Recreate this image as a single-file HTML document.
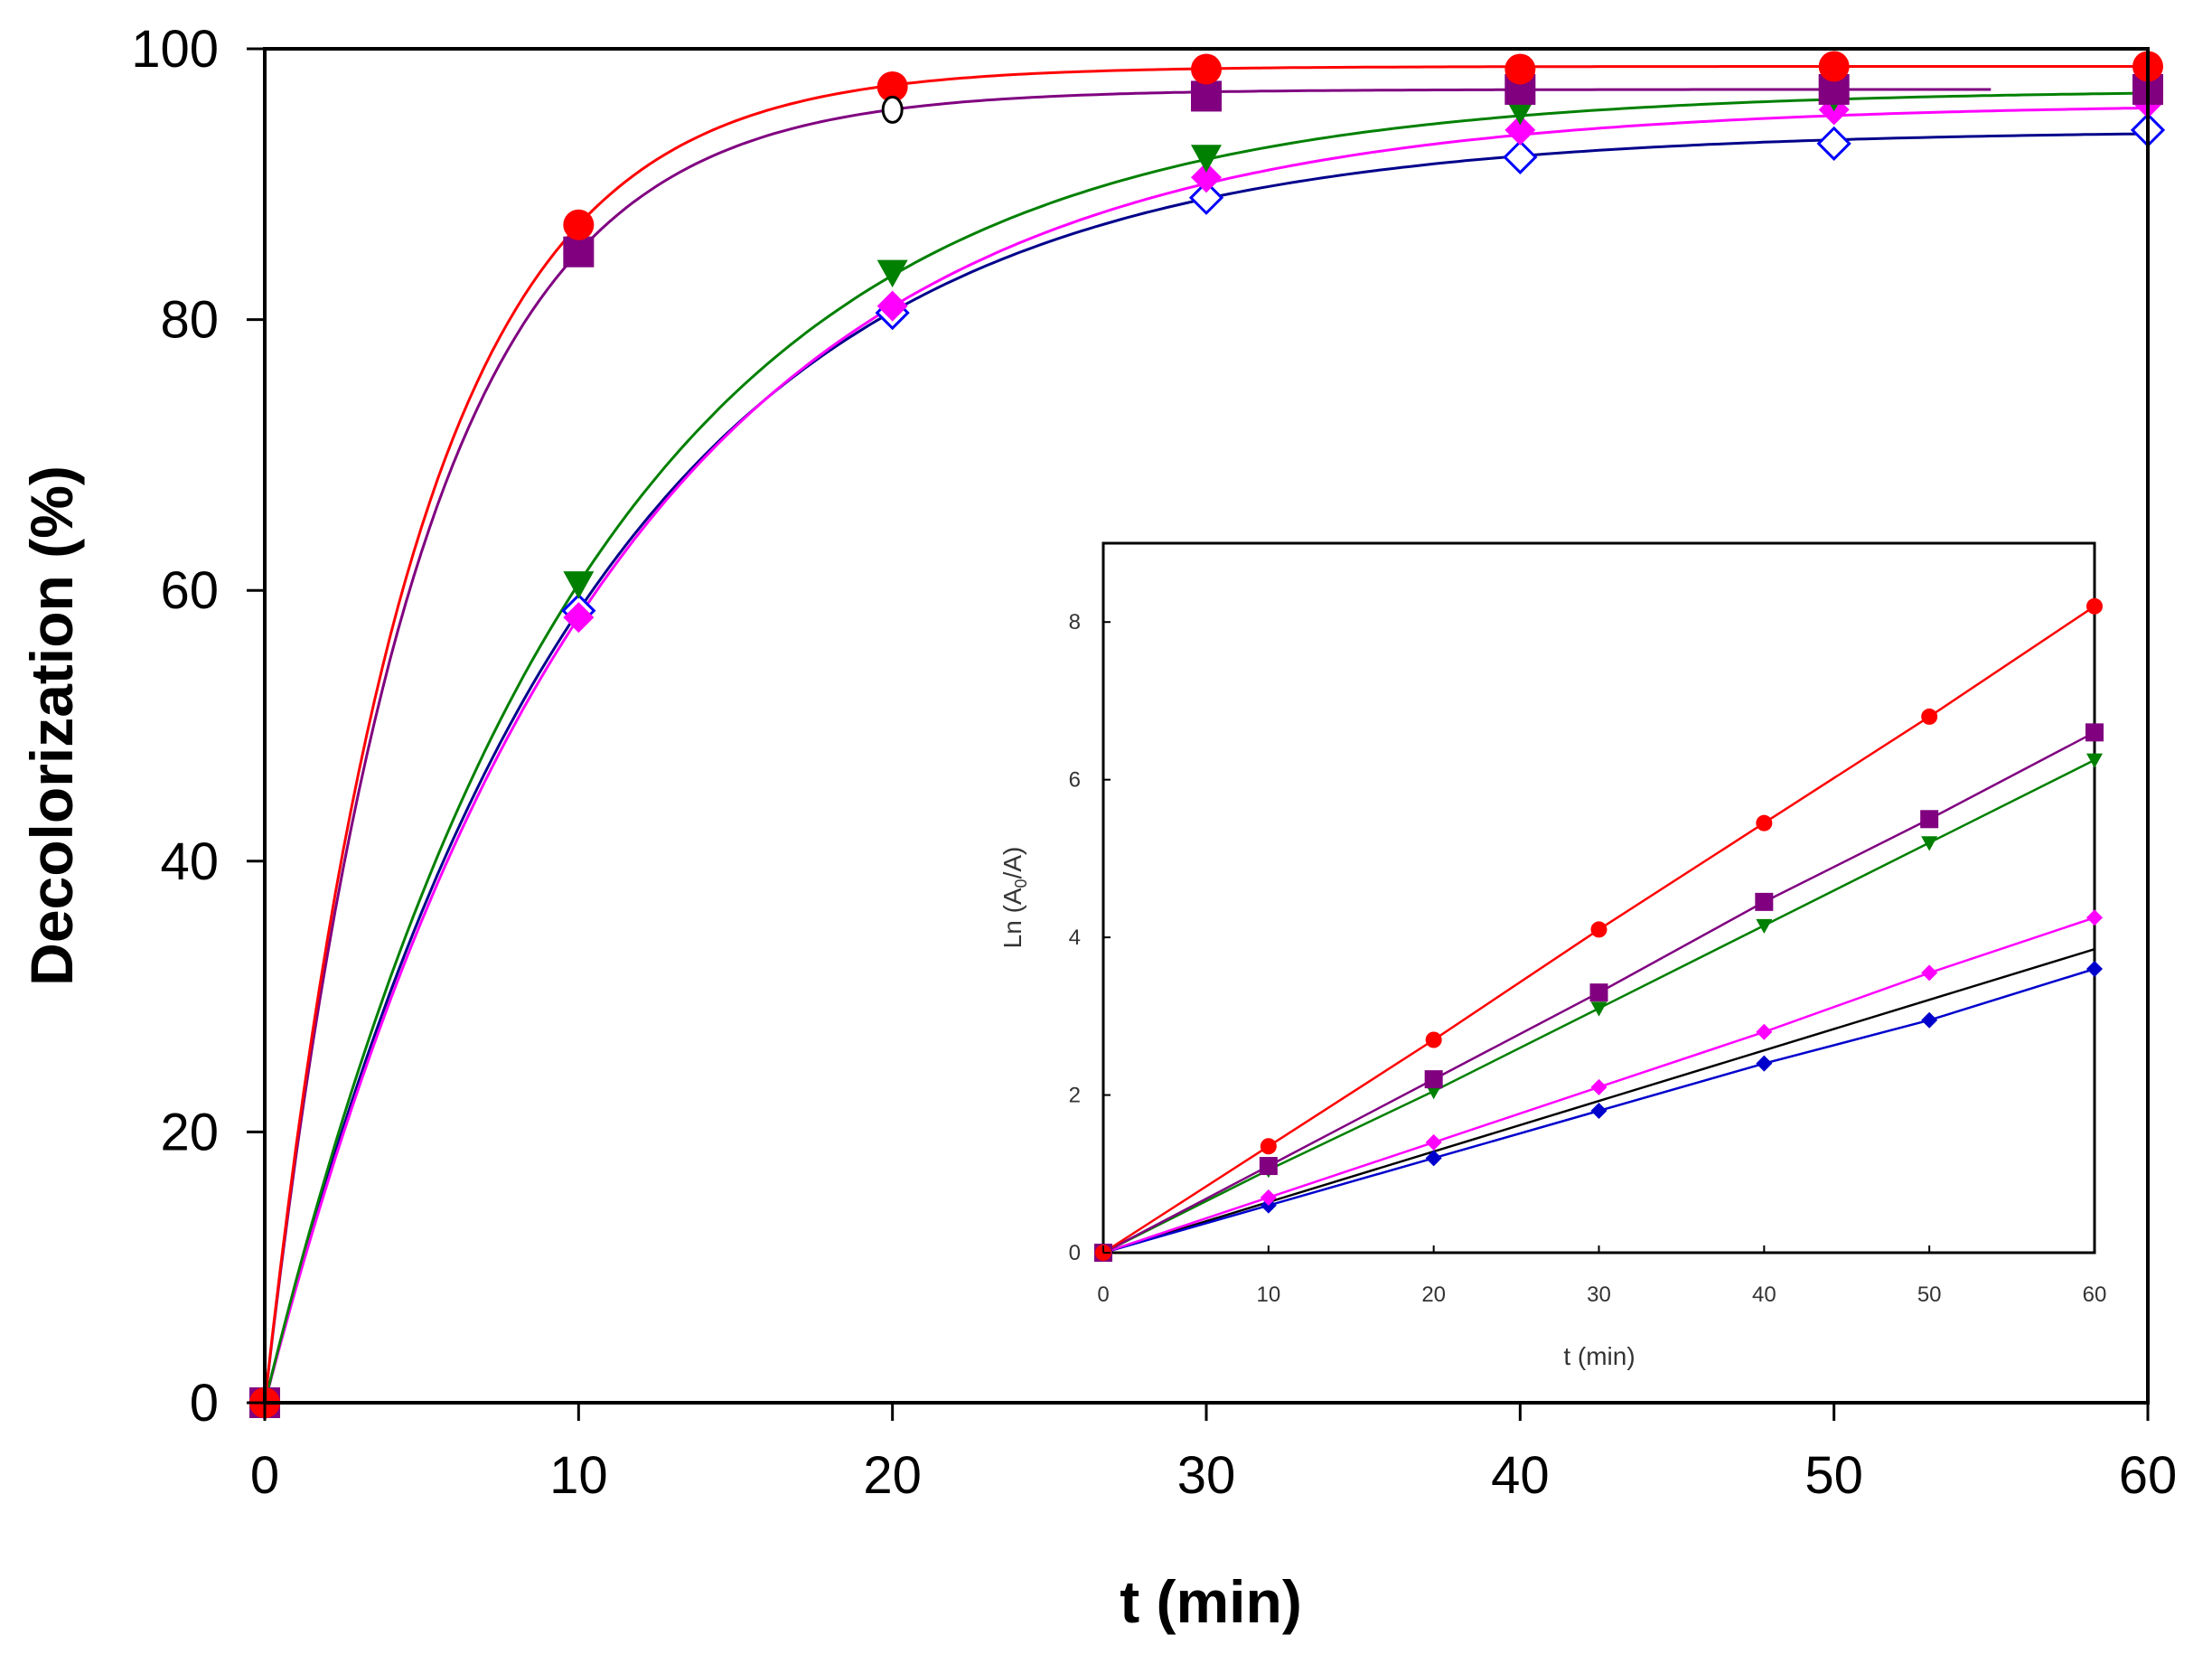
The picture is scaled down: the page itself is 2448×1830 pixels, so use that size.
<!DOCTYPE html>
<html><head><meta charset="utf-8"><style>
html,body{margin:0;padding:0;background:#fff;}
svg{display:block;font-family:"Liberation Sans",Arial,sans-serif;}
</style></head><body>
<svg id="chart" width="2448" height="1830" viewBox="0 0 2448 1830" xmlns="http://www.w3.org/2000/svg">
<g id="main"></g>
<g id="inset"></g>
</svg>
<script>
// Main chart data
const times = [0,10,20,30,40,50,60];
const redVals = [0,87,97.2,98.5,98.5,98.7,98.7];
const purpleVals = [0,85,95.5,96.5,97,97,97];
const greenVals = [0,60.5,83.5,92,95.5,96.5,97];
const magentaVals = [0,58,81,90.5,94,95.5,96];
const blueVals = [0,58.5,80.5,89,92,93,94];
const openCircle = [20,95.5];
const mainXTicks = [0,10,20,30,40,50,60];
const mainYTicks = [0,20,40,60,80,100];
// Inset data
const insetTimes = [0,10,20,30,40,50,60];
const insetRed = [0,1.35,2.7,4.1,5.45,6.8,8.2];
const insetPurple = [0,1.1,2.2,3.3,4.45,5.5,6.6];
const insetGreen = [0,1.05,2.05,3.1,4.15,5.2,6.25];
const insetMagenta = [0,0.7,1.4,2.1,2.8,3.55,4.25];
const insetBlack = [0,3.85];
const insetBlackT = [0,60];
const insetBlue = [0,0.6,1.2,1.8,2.4,2.95,3.6];
const insetXTicks = [0,10,20,30,40,50,60];
const insetYTicks = [0,2,4,6,8];

const NS="http://www.w3.org/2000/svg";
function mk(parent,tag,attrs,text){const e=document.createElementNS(NS,tag);for(const k in attrs)e.setAttribute(k,attrs[k]);if(text!==undefined)e.textContent=text;parent.appendChild(e);return e;}

const M={l:293,r:2377,t:54,b:1552};
const mx=v=>M.l+(v/60)*(M.r-M.l);
const my=v=>M.b-(v/100)*(M.b-M.t);
const main=document.getElementById('main');

function marker(g,type,x,y,s,color,name){
  let e;
  if(type==='circle'){e=mk(g,'circle',{cx:x,cy:y,r:s,fill:color});}
  else if(type==='ocircle'){e=mk(g,'ellipse',{cx:x,cy:y,rx:s*0.75,ry:s,fill:'#fff',stroke:color,'stroke-width':3});}
  else if(type==='square'){e=mk(g,'rect',{x:x-s,y:y-s,width:2*s,height:2*s,fill:color});}
  else if(type==='tri'){e=mk(g,'polygon',{points:`${x-s},${y-s*0.8} ${x+s},${y-s*0.8} ${x},${y+s}`,fill:color});}
  else if(type==='diamond'){e=mk(g,'polygon',{points:`${x},${y-s} ${x+s},${y} ${x},${y+s} ${x-s},${y}`,fill:color});}
  else if(type==='odiamond'){e=mk(g,'polygon',{points:`${x},${y-s} ${x+s},${y} ${x},${y+s} ${x-s},${y}`,fill:'#fff',stroke:color,'stroke-width':3});}
  
  
  return e;
}

function fitCurve(vals,tEnd,color,name){
  const a=vals[vals.length-1];
  const k=-Math.log(1-vals[1]/a)/10;
  let d='';
  for(let t=0;t<=tEnd;t+=0.25){d+=(t===0?'M':'L')+mx(t).toFixed(1)+','+my(a*(1-Math.exp(-k*t))).toFixed(1);}
  const p=mk(main,'path',{d:d,fill:'none',stroke:color,'stroke-width':3});
  
  
}
const series=[
 {v:blueVals,c:'#00008b',mc:'#0000ff',m:'odiamond',n:'blue',end:60},
 {v:magentaVals,c:'#ff00ff',mc:'#ff00ff',m:'diamond',n:'magenta',end:60},
 {v:greenVals,c:'#008000',mc:'#008000',m:'tri',n:'green',end:60},
 {v:purpleVals,c:'#800080',mc:'#800080',m:'square',n:'purple',end:55},
 {v:redVals,c:'#ff0000',mc:'#ff0000',m:'circle',n:'red',end:60}
];
series.forEach(s=>fitCurve(s.v,s.end,s.c,s.n+'-fit-curve'));
series.forEach(s=>{s.v.forEach((v,i)=>{
  if(s.n==='purple'&&i===2)return;
  marker(main,s.m,mx(times[i]),my(v),17,s.mc,s.n+'-marker');
});});
marker(main,'ocircle',mx(openCircle[0]),my(openCircle[1]),14,'#000','open-circle-marker');

mk(main,'rect',{x:M.l,y:M.t,width:M.r-M.l,height:M.b-M.t,fill:'none',stroke:'#000','stroke-width':4});
mainXTicks.forEach(t=>{
  mk(main,'line',{x1:mx(t),y1:M.b,x2:mx(t),y2:M.b+20,stroke:'#000','stroke-width':3});
  const e=mk(main,'text',{x:mx(t),y:1652,'text-anchor':'middle','font-size':58},t);
  
  
});
mainYTicks.forEach(t=>{
  mk(main,'line',{x1:M.l-20,y1:my(t),x2:M.l,y2:my(t),stroke:'#000','stroke-width':3});
  const e=mk(main,'text',{x:242,y:my(t)+20,'text-anchor':'end','font-size':58},t);
  
  
});
let xt=mk(main,'text',{x:1340,y:1795,'text-anchor':'middle','font-size':66,'font-weight':'bold'},'t (min)');


let yt=mk(main,'text',{x:0,y:0,'text-anchor':'middle','font-size':66,'font-weight':'bold',transform:'translate(80,803) rotate(-90)'},'Decolorization (%)');



const I={l:1221,r:2318,t:601,b:1386};
const ix=v=>I.l+(v/60)*(I.r-I.l);
const iy=v=>I.b-(v/9)*(I.b-I.t);
const inset=document.getElementById('inset');
mk(inset,'rect',{x:I.l,y:I.t,width:I.r-I.l,height:I.b-I.t,fill:'#fff',stroke:'#000','stroke-width':3});
function iline(ts,vals,color,name){
  const pts=vals.map((v,i)=>ix(ts[i]).toFixed(1)+','+iy(v).toFixed(1)).join(' ');
  const p=mk(inset,'polyline',{points:pts,fill:'none',stroke:color,'stroke-width':2.5});
  
  
}
const iser=[
 {v:insetBlue,c:'#0000cd',m:'diamond',n:'inset-blue'},
 {v:insetMagenta,c:'#ff00ff',m:'diamond',n:'inset-magenta'},
 {v:insetGreen,c:'#008000',m:'tri',n:'inset-green'},
 {v:insetPurple,c:'#800080',m:'square',n:'inset-purple'},
 {v:insetRed,c:'#ff0000',m:'circle',n:'inset-red'}
];
iline(insetBlackT,insetBlack,'#000','inset-black-line');
iser.forEach(s=>{iline(insetTimes,s.v,s.c,s.n+'-line');});
iser.forEach(s=>{s.v.forEach((v,i)=>marker(inset,s.m,ix(insetTimes[i]),iy(v),s.m==='square'?10:9,s.c,s.n+'-marker'));});
insetXTicks.forEach(t=>{
  mk(inset,'line',{x1:ix(t),y1:I.b,x2:ix(t),y2:I.b-8,stroke:'#000','stroke-width':2});
  const e=mk(inset,'text',{x:ix(t),y:1440,'text-anchor':'middle','font-size':24,fill:'#333'},t);
  
  
});
insetYTicks.forEach(t=>{
  mk(inset,'line',{x1:I.l,y1:iy(t),x2:I.l+8,y2:iy(t),stroke:'#000','stroke-width':2});
  const e=mk(inset,'text',{x:1196,y:iy(t)+8,'text-anchor':'end','font-size':24,fill:'#333'},t);
  
  
});
let ixt=mk(inset,'text',{x:1770,y:1510,'text-anchor':'middle','font-size':28,fill:'#333'},'t (min)');


let iyt=mk(inset,'text',{x:0,y:0,'text-anchor':'middle','font-size':28,fill:'#333',transform:'translate(1130,993) rotate(-90)'});
iyt.innerHTML='Ln (A<tspan font-size="18" dy="6">0</tspan><tspan dy="-6">/A)</tspan>';


</script>
</body></html>
